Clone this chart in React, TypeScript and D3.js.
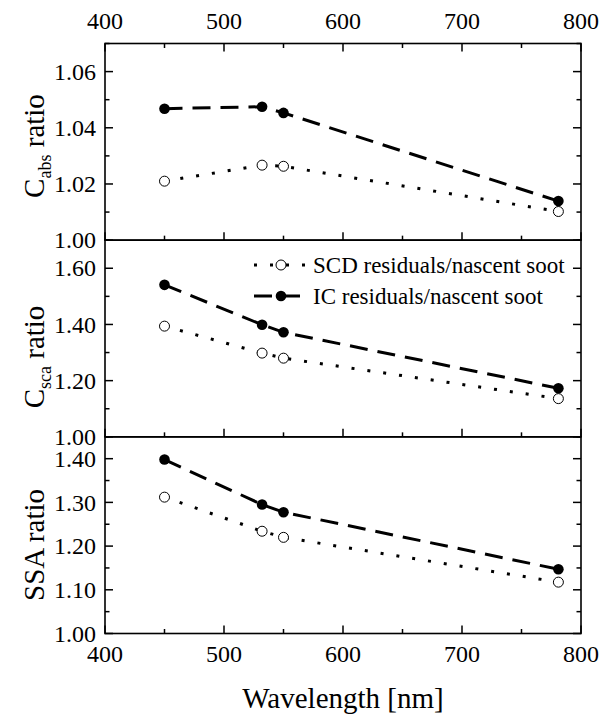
import React from "react";
import * as d3 from "d3";

// ---- data ----
const wavelengths = [450, 532, 550, 781];

const cabsSCD = [1.021, 1.0267, 1.0263, 1.0102];
const cabsIC = [1.0468, 1.0475, 1.0453, 1.0139];

const cscaSCD = [1.394, 1.298, 1.28, 1.136];
const cscaIC = [1.541, 1.399, 1.372, 1.173];

const ssaSCD = [1.312, 1.234, 1.22, 1.1175];
const ssaIC = [1.398, 1.295, 1.2775, 1.147];

const xTicks = [400, 500, 600, 700, 800];
const xMinorTicks = [450, 550, 650, 750];

const cabsTicks = [1.0, 1.02, 1.04, 1.06];
const cabsMinor = [1.01, 1.03, 1.05, 1.07];
const cscaTicks = [1.0, 1.2, 1.4, 1.6];
const cscaMinor = [1.1, 1.3, 1.5, 1.7];
const ssaTicks = [1.0, 1.1, 1.2, 1.3, 1.4];
const ssaMinor = [1.05, 1.15, 1.25, 1.35, 1.45];

const legendLabels = ["SCD residuals/nascent soot", "IC residuals/nascent soot"];
const xTitle = "Wavelength [nm]";

// ---- layout ----
const W = 602;
const H = 717;
const left = 105;
const right = 581;
const top = 43.5;
const bottom = 633.5;
const panelH = (bottom - top) / 3;
const FONT = "'Liberation Serif', 'Times New Roman', serif";

const x = d3.scaleLinear().domain([400, 800]).range([left, right]);

type Panel = {
  domain: [number, number];
  ticks: number[];
  minor: number[];
  fmt: string;
  scd: number[];
  ic: number[];
  title: { main: string; sub?: string; rest: string };
  titleCenter: number;
};

const panels: Panel[] = [
  {
    domain: [1.0, 1.07],
    ticks: cabsTicks,
    minor: cabsMinor,
    fmt: ".2f",
    scd: cabsSCD,
    ic: cabsIC,
    title: { main: "C", sub: "abs", rest: " ratio" },
    titleCenter: 146,
  },
  {
    domain: [1.0, 1.7],
    ticks: cscaTicks,
    minor: cscaMinor,
    fmt: ".2f",
    scd: cscaSCD,
    ic: cscaIC,
    title: { main: "C", sub: "sca", rest: " ratio" },
    titleCenter: 357,
  },
  {
    domain: [1.0, 1.45],
    ticks: ssaTicks,
    minor: ssaMinor,
    fmt: ".2f",
    scd: ssaSCD,
    ic: ssaIC,
    title: { main: "SSA ratio", rest: "" },
    titleCenter: 545,
  },
];

const MAJ = 8;
const MIN = 4.5;
const IC_DASH = "18 10";
const SCD_DASH = "3 13";

function PanelView({ p, i }: { p: Panel; i: number }) {
  const y0 = top + i * panelH;
  const y1 = y0 + panelH;
  const y = d3.scaleLinear().domain(p.domain).range([y1, y0]);
  const fmt = d3.format(p.fmt);
  const line = d3
    .line<number>()
    .x((_, k) => x(wavelengths[k]))
    .y((v) => y(v));
  return (
    <g>
      {/* frame */}
      <rect x={left} y={y0} width={right - left} height={panelH} fill="none" stroke="#000" strokeWidth={1.6} />
      {/* bottom ticks (inward) */}
      {xTicks.map((t) => (
        <line key={"bx" + t} x1={x(t)} x2={x(t)} y1={y1} y2={y1 - MAJ} stroke="#000" strokeWidth={1.5} />
      ))}
      {xMinorTicks.map((t) => (
        <line key={"bmx" + t} x1={x(t)} x2={x(t)} y1={y1} y2={y1 - MIN} stroke="#000" strokeWidth={1.5} />
      ))}
      {i === 0 &&
        xTicks.map((t) => (
          <line key={"tx" + t} x1={x(t)} x2={x(t)} y1={y0} y2={y0 + MAJ} stroke="#000" strokeWidth={1.5} />
        ))}
      {i === 0 &&
        xMinorTicks.map((t) => (
          <line key={"tmx" + t} x1={x(t)} x2={x(t)} y1={y0} y2={y0 + MIN} stroke="#000" strokeWidth={1.5} />
        ))}
      {/* y ticks left & right */}
      {p.ticks.map((t) => (
        <g key={"y" + t}>
          <line x1={left} x2={left + MAJ} y1={y(t)} y2={y(t)} stroke="#000" strokeWidth={1.5} />
          <line x1={right} x2={right - MAJ} y1={y(t)} y2={y(t)} stroke="#000" strokeWidth={1.5} />
          <text
            x={left - 9}
            y={y(t)}
            dy="0.34em"
            textAnchor="end"
            fontSize={24}
            fontFamily={FONT}
          >
            {fmt(t)}
          </text>
        </g>
      ))}
      {p.minor.map((t) => (
        <g key={"ym" + t}>
          <line x1={left} x2={left + MIN} y1={y(t)} y2={y(t)} stroke="#000" strokeWidth={1.5} />
          <line x1={right} x2={right - MIN} y1={y(t)} y2={y(t)} stroke="#000" strokeWidth={1.5} />
        </g>
      ))}
      {/* series */}
      <path d={line(p.scd) || ""} fill="none" stroke="#000" strokeWidth={3} strokeDasharray={SCD_DASH} />
      <path d={line(p.ic) || ""} fill="none" stroke="#000" strokeWidth={3} strokeDasharray={IC_DASH} />
      {p.scd.map((v, k) => (
        <circle key={"s" + k} cx={x(wavelengths[k])} cy={y(v)} r={5} fill="#fff" stroke="#000" strokeWidth={1} />
      ))}
      {p.ic.map((v, k) => (
        <circle key={"c" + k} cx={x(wavelengths[k])} cy={y(v)} r={5.3} fill="#000" />
      ))}
      {/* y title */}
      <text
        transform={`translate(43.5, ${p.titleCenter}) rotate(-90)`}
        textAnchor="middle"
        fontSize={29}
        fontFamily={FONT}
      >
        <tspan>{p.title.main}</tspan>
        {p.title.sub && (
          <tspan fontSize={18} dy={7}>
            {p.title.sub}
          </tspan>
        )}
        {p.title.rest && <tspan dy={p.title.sub ? -7 : 0}>{p.title.rest}</tspan>}
      </text>
    </g>
  );
}

export default function App() {
  const legendY = [265, 296];
  const lx0 = 254;
  const lx1 = 308;
  const lxc = 281;
  return (
    <svg
      width={W}
      height={H}
      style={{ position: "absolute", left: 0, top: 0, background: "#fff" }}
      xmlns="http://www.w3.org/2000/svg"
    >
      <rect width={W} height={H} fill="#fff" />
      {panels.map((p, i) => (
        <PanelView key={i} p={p} i={i} />
      ))}
      {/* top tick labels */}
      {xTicks.map((t) => (
        <text key={"tl" + t} x={x(t)} y={28.5} textAnchor="middle" fontSize={24} fontFamily={FONT}>
          {t}
        </text>
      ))}
      {/* bottom tick labels */}
      {xTicks.map((t) => (
        <text key={"bl" + t} x={x(t)} y={662} textAnchor="middle" fontSize={24} fontFamily={FONT}>
          {t}
        </text>
      ))}
      <text x={(left + right) / 2} y={708} textAnchor="middle" fontSize={29} fontFamily={FONT}>
        {xTitle}
      </text>
      {/* legend */}
      <g>
        <line x1={lx0} x2={lx1} y1={legendY[0]} y2={legendY[0]} stroke="#000" strokeWidth={3} strokeDasharray={SCD_DASH} />
        <circle cx={lxc} cy={legendY[0]} r={5} fill="#fff" stroke="#000" strokeWidth={1} />
        <text x={313} y={legendY[0]} dy="0.33em" fontSize={23} fontFamily={FONT}>
          {legendLabels[0]}
        </text>
        <line x1={lx0} x2={lx1} y1={legendY[1]} y2={legendY[1]} stroke="#000" strokeWidth={3} strokeDasharray={IC_DASH} />
        <circle cx={lxc} cy={legendY[1]} r={5.3} fill="#000" />
        <text x={313} y={legendY[1]} dy="0.33em" fontSize={23} fontFamily={FONT}>
          {legendLabels[1]}
        </text>
      </g>
    </svg>
  );
}
